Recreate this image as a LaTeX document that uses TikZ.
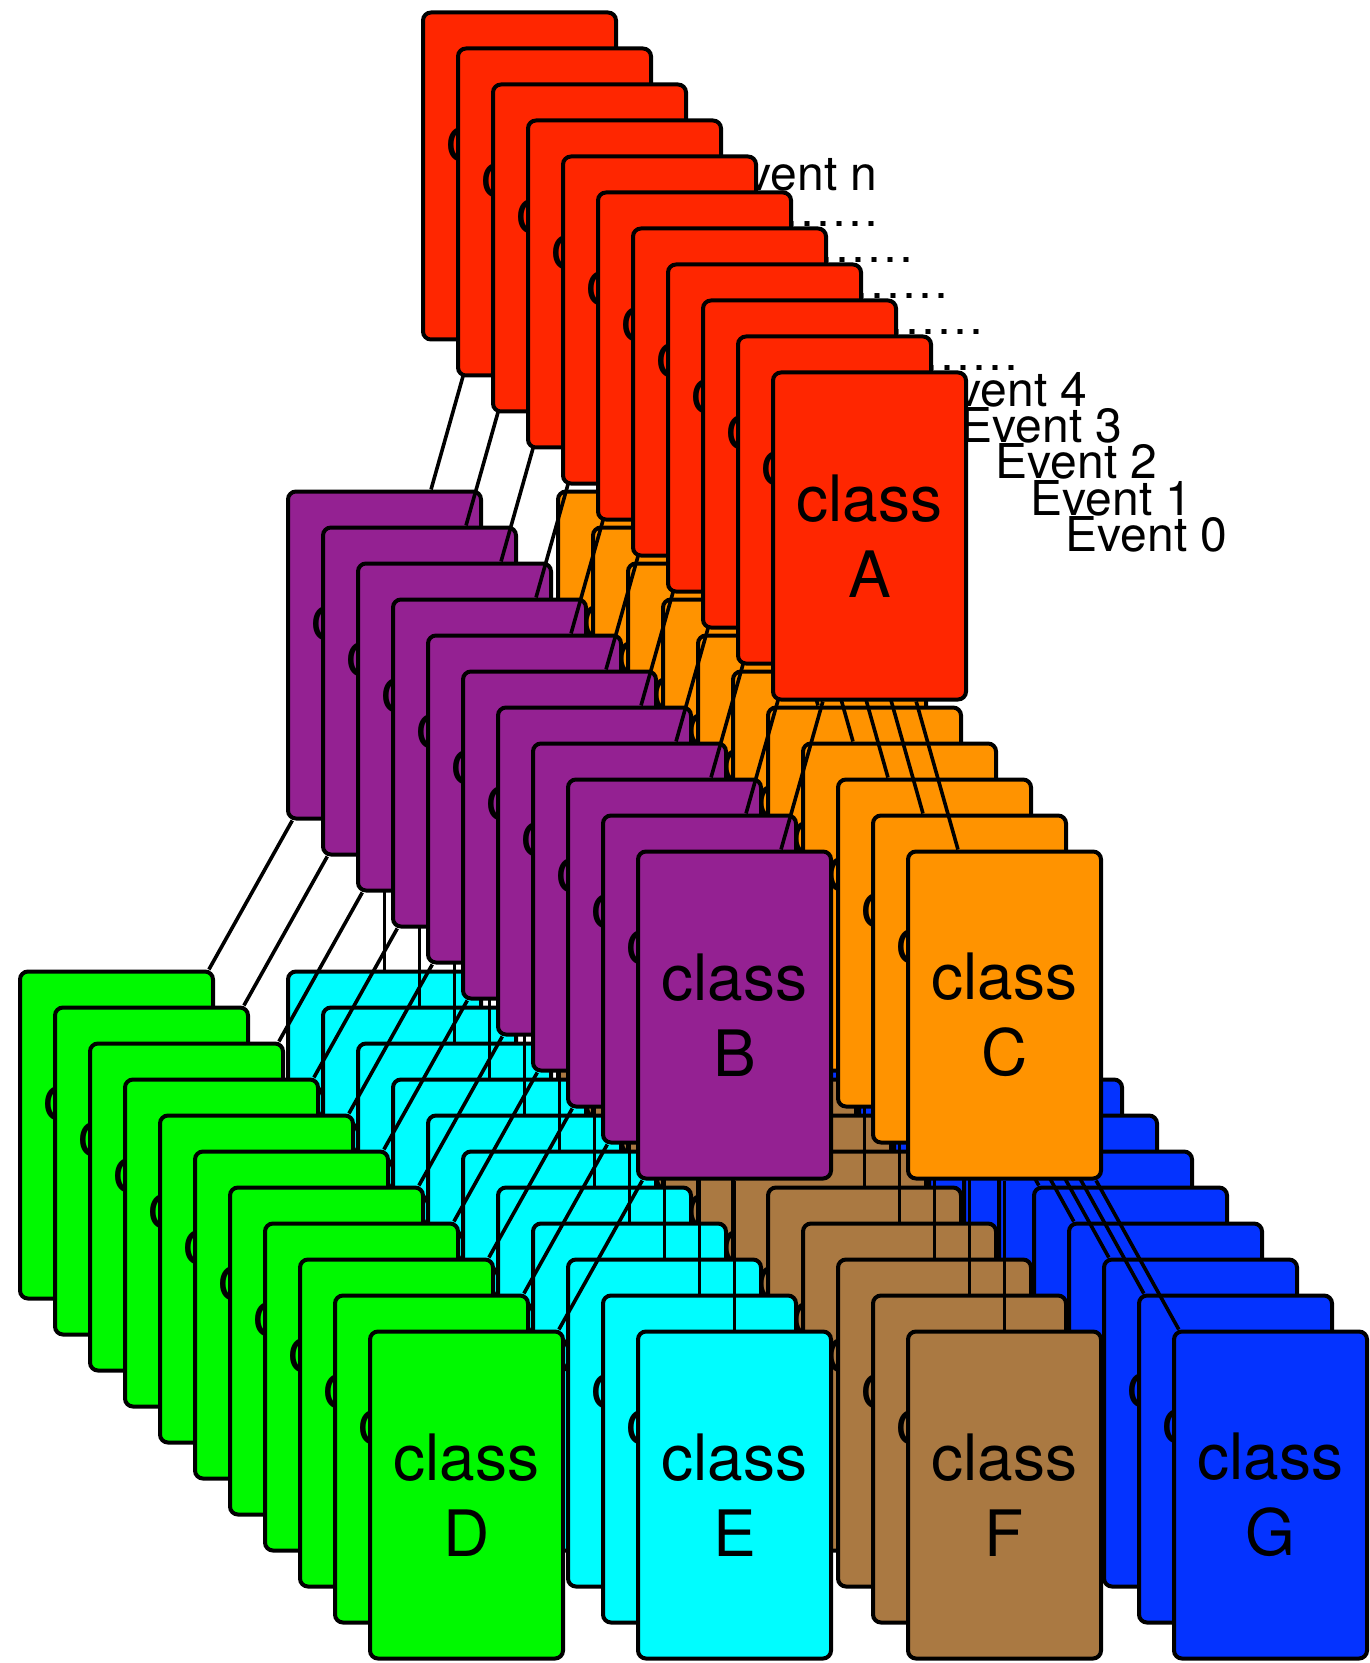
\documentclass[tikz,border=0pt]{standalone}
\usepackage{fontspec}
\setmainfont{TeX Gyre Heros}
\definecolor{cA}{HTML}{FF2600}
\definecolor{cB}{HTML}{942192}
\definecolor{cC}{HTML}{FF9300}
\definecolor{cD}{HTML}{00F900}
\definecolor{cE}{HTML}{00FDFF}
\definecolor{cF}{HTML}{AA7942}
\definecolor{cG}{HTML}{0433FF}
\begin{document}
\begin{tikzpicture}[x=0.5pt,y=-0.5pt,
  card/.style={draw=black, line width=2pt, rounded corners=4pt,
    minimum width=96.5pt, minimum height=163.5pt, inner sep=0pt,
    align=center, font=\fontsize{32}{38}\selectfont},
  link/.style={draw=black, line width=1.8pt},
  evlabel/.style={anchor=base, inner sep=0pt, font=\fontsize{24}{28}\selectfont}]
\useasboundingbox (0,0) rectangle (1369,1663);
\foreach \k/\lab in {10/Event n,9/……,8/……,7/……,6/……,5/……,4/Event 4,3/Event 3,2/Event 2,1/Event 1,0/Event 0}{
  \begin{scope}[shift={(-35*\k,-36*\k)}]
    \node[card, fill=cA] (A\k) at (869.5,536) {class\\A};
    \node[card, fill=cB] (B\k) at (734.5,1015) {class\\B};
    \node[card, fill=cC] (C\k) at (1004.5,1015) {class\\C};
    \node[card, fill=cD] (D\k) at (466.5,1495) {class\\D};
    \node[card, fill=cE] (E\k) at (734.5,1495) {class\\E};
    \node[card, fill=cF] (F\k) at (1004.5,1495) {class\\F};
    \node[card, fill=cG] (G\k) at (1270.5,1495) {class\\G};
    \draw[link] (A\k) -- (B\k);
    \draw[link] (A\k) -- (C\k);
    \draw[link] (B\k) -- (D\k);
    \draw[link] (B\k) -- (E\k);
    \draw[link] (C\k) -- (F\k);
    \draw[link] (C\k) -- (G\k);
    \node[evlabel] (L\k) at (1146.5,551) {\lab};
  \end{scope}
}
\end{tikzpicture}
\end{document}
